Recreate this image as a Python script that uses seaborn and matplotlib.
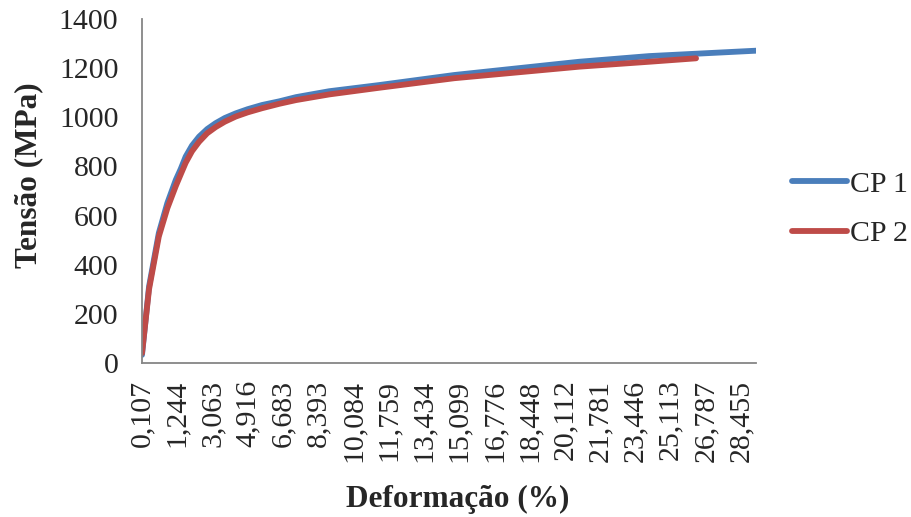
import numpy as np
import pandas as pd
import matplotlib
matplotlib.use("Agg")
import matplotlib.pyplot as plt
import seaborn as sns
from matplotlib.lines import Line2D

# Category-axis labels (strain, %)
tick_labels = ["0,107", "1,244", "3,063", "4,916", "6,683", "8,393", "10,084", "11,759",
               "13,434", "15,099", "16,776", "18,448", "20,112", "21,781", "23,446",
               "25,113", "26,787", "28,455"]
tick_strain = [0.107, 1.244, 3.063, 4.916, 6.683, 8.393, 10.084, 11.759, 13.434,
               15.099, 16.776, 18.448, 20.112, 21.781, 23.446, 25.113, 26.787, 28.455]

# Series (strain %, stress MPa)
cp1_strain = [0.107, 0.334, 0.65, 0.925, 1.197, 1.426, 1.68, 2.008, 2.37, 2.79, 3.23,
              3.712, 4.29, 4.916, 5.64, 6.506, 7.32, 8.92, 11.3, 14.87, 20.14, 20.8,
              24.1, 29.17]
cp1_stress = [33, 311, 529, 651, 745, 790, 840, 885, 921, 952, 976,
              997, 1016, 1033, 1050, 1065, 1082, 1106, 1131, 1172, 1220, 1226,
              1249, 1271]
cp2_strain = [0.107, 0.334, 0.65, 0.925, 1.197, 1.426, 1.68, 2.008, 2.37, 2.79, 3.23,
              3.712, 4.29, 4.916, 5.64, 6.506, 7.32, 8.92, 11.3, 14.87, 20.8,
              24.1, 26.33]
cp2_stress = [40, 300, 515, 630, 720, 768, 815, 862, 900, 935, 960,
              982, 1003, 1020, 1037, 1055, 1070, 1093, 1120, 1159, 1206,
              1226, 1240]


def to_pos(s):
    s = np.asarray(s, dtype=float)
    idx = np.arange(len(tick_strain))
    pos = np.interp(s, tick_strain, idx)
    beyond = s > tick_strain[-1]
    step = tick_strain[-1] - tick_strain[-2]
    pos[beyond] = idx[-1] + (s[beyond] - tick_strain[-1]) / step
    return pos


df = pd.concat([
    pd.DataFrame({"pos": to_pos(cp1_strain), "stress": cp1_stress, "serie": "CP 1"}),
    pd.DataFrame({"pos": to_pos(cp2_strain), "stress": cp2_stress, "serie": "CP 2"}),
])

sns.set_style("white")
plt.rcParams["font.family"] = ["Liberation Serif", "DejaVu Serif"]

BLUE, RED = "#4A7EBB", "#BE4B48"
LW = 4.2
fig = plt.figure(figsize=(9.12, 5.17), dpi=100)
ax = fig.add_axes([142 / 912, 1 - 363 / 517, (756 - 142) / 912, (363 - 19) / 517])

sns.lineplot(data=df, x="pos", y="stress", hue="serie", sort=False,
             palette={"CP 1": BLUE, "CP 2": RED},
             linewidth=LW, estimator=None, ax=ax, legend=False)
for ln in ax.get_lines():
    ln.set_solid_capstyle("round")
    ln.set_solid_joinstyle("round")

ax.set_xlim(0, to_pos([cp1_strain[-1]])[0])
ax.set_ylim(0, 1400)
ax.set_yticks(np.arange(0, 1401, 200))
ax.set_yticklabels([str(v) for v in range(0, 1401, 200)], fontsize=21.5)
ax.set_xticks(np.arange(len(tick_labels)))
ax.set_xticklabels(tick_labels, rotation=90, fontsize=21.5)
ax.tick_params(axis="y", length=0, pad=17)
ax.tick_params(axis="x", length=0, pad=12)
for t in ax.get_xticklabels():
    t.set_x(t.get_position()[0])

for side in ["top", "right"]:
    ax.spines[side].set_visible(False)
for side in ["left", "bottom"]:
    ax.spines[side].set_color("#868686")
    ax.spines[side].set_linewidth(1.3)

ax.set_xlabel("Deformação (%)", fontsize=22.5, fontweight="bold")
ax.set_ylabel("Tensão (MPa)", fontsize=22.5, fontweight="bold")
ax.xaxis.set_label_coords((458 - 142) / (756 - 142), -(485 - 363) / (363 - 19))
ax.yaxis.set_label_coords(-(142 - 43) / (756 - 142), (363 - 175) / (363 - 19))

handles = [Line2D([], [], color=BLUE, lw=LW, solid_capstyle="round"),
           Line2D([], [], color=RED, lw=LW, solid_capstyle="round")]
fig.legend(handles, ["CP 1", "CP 2"], loc="center left",
           bbox_to_anchor=(792 / 912, 1 - 209 / 517), frameon=False,
           fontsize=21.5, handlelength=1.85, handletextpad=0.1,
           labelspacing=0.75, borderaxespad=0, borderpad=0)

fig.savefig("out.png", dpi=100)
